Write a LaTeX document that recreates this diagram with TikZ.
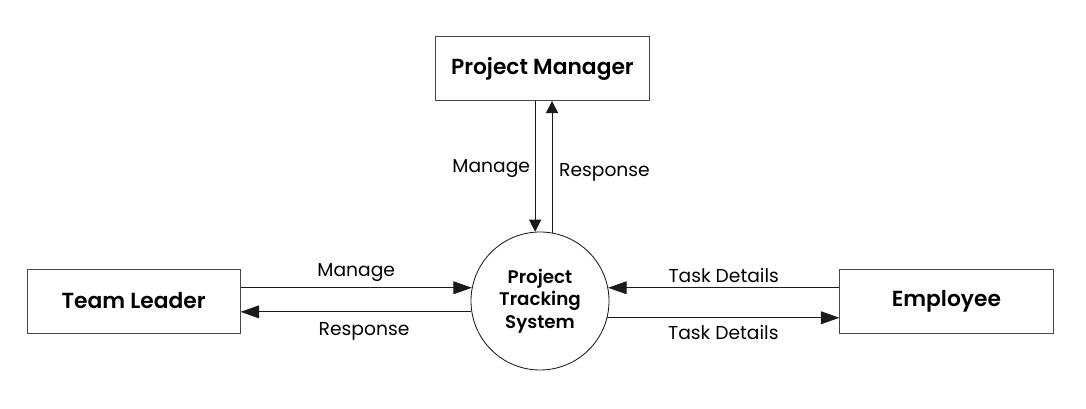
\documentclass[tikz,border=0pt]{standalone}
\usepackage{fontspec}
\setmainfont{Poppins}[BoldFont={Poppins SemiBold}]
\usepackage{tikz}
\usetikzlibrary{arrows.meta, positioning, calc}
\definecolor{flowInk}{HTML}{1A1A1A}

\begin{document}
\begin{tikzpicture}[
    entity/.style={
        draw=flowInk!80,
        line width=0.6pt,
        minimum width=5.33cm,
        minimum height=1.6cm,
        font=\fontsize{15.5}{18}\selectfont\bfseries,
        text=black
    },
    process/.style={
        circle,
        draw=flowInk,
        line width=0.6pt,
        minimum size=3.45cm,
        align=center,
        inner sep=0pt,
        font=\fontsize{13}{16}\selectfont\bfseries,
        text=black
    },
    flow/.style={-{Triangle[length=4.6mm, width=3.2mm]}, draw=flowInk, line width=0.6pt},
    vflow/.style={-{Triangle[length=3mm, width=3mm]}, draw=flowInk, line width=0.6pt},
    label/.style={font=\fontsize{13.3}{16}\selectfont, text=black}
]

% Page frame
\useasboundingbox (0,0) rectangle (27.15,10.225);

% Entities and process
\node[process] (pts) at (13.5,2.7) {Project\\Tracking\\System};
\node[entity] (pm) at (13.56,8.51) {Project Manager};
\node[entity] (tl) at (3.34,2.7) {Team Leader};
\node[entity] (emp) at (23.66,2.7) {Employee};

% Project manager flows
\draw[vflow] (pts.94 |- pm.south) -- node[label, left, yshift=-0.05cm] {Manage} (pts.94);
\draw[vflow] (pts.80) -- node[label, right, xshift=0.05cm, yshift=-0.15cm] {Response} (pts.80 |- pm.south);

% Team leader flows
\draw[flow] (tl.east |- pts.169) -- node[label, above, yshift=0.03cm] {Manage} (pts.169);
\draw[flow] (pts.189) -- node[label, below, xshift=0.2cm, yshift=-0.14cm] {Response} (tl.east |- pts.189);

% Employee flows
\draw[flow] (emp.west |- pts.11) -- node[label, above, yshift=0.01cm] {Task Details} (pts.11);
\draw[flow] (pts.-14) -- node[label, below, yshift=-0.05cm] {Task Details} (emp.west |- pts.-14);

\end{tikzpicture}
\end{document}
